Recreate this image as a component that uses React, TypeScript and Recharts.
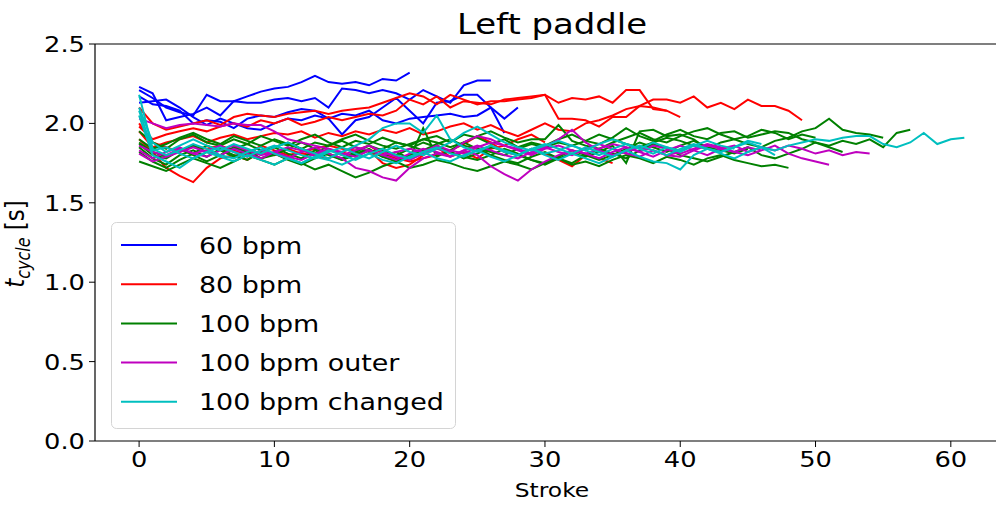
import { Legend, Line, LineChart, ReferenceLine, XAxis, YAxis } from "recharts";

const X_TICKS = [0, 10, 20, 30, 40, 50, 60];
const Y_TICKS = [0, 0.5, 1, 1.5, 2, 2.5];

// one inner array per run, index = stroke number
const BPM60 = [
  [2.21, 2.16, 2.10, 2.07, 2.05, 2.18, 2.14, 2.14, 2.17, 2.20, 2.22, 2.23, 2.26, 2.30, 2.26, 2.25, 2.26, 2.24, 2.28, 2.27, 2.32],
  [2.23, 2.19, 2.02, 2.04, 2.06, 2.10, 2.05, 2.14, 2.13, 2.13, 2.15, 2.16, 2.14, 2.16, 2.10, 2.22, 2.21, 2.19, 2.21, 2.19, 2.15, 2.21, 2.17, 2.13, 2.24, 2.27, 2.27],
  [2.13, 2.14, 2.15, 2.10, 2.04, 1.99, 2.03, 2.00, 1.97, 1.96, 2.00, 2.03, 2.02, 2.05, 2.03, 1.93, 2.02, 2.04, 2.10, 2.16, 2.08, 2.00, 2.13, 2.14, 2.18, 2.18, 2.10, 1.94],
  [2.17, 2.12, 2.11, 2.08, 2.00, 2.02, 2.01, 1.97, 2.03, 2.05, 2.04, 2.07, 2.09, 2.08, 2.03, 2.06, 2.05, 2.08, 2.02, 2.00, 2.03, 2.04, 2.05, 2.06, 2.04, 2.05, 2.10, 2.03, 2.10],
];

const BPM80 = [
  [2.10, 2.00, 1.96, 1.98, 2.00, 2.02, 1.99, 2.04, 2.06, 2.05, 2.04, 2.06, 2.07, 2.08, 2.06, 2.08, 2.09, 2.10, 2.13, 2.16, 2.19, 2.17, 2.12, 2.18, 2.15, 2.12, 2.14, 2.14, 2.15, 2.16, 2.18, 2.13, 2.16, 2.15, 2.17, 2.13, 2.21, 2.21, 2.09, 2.08, 2.04],
  [1.98, 1.90, 1.93, 1.95, 1.97, 1.95, 1.98, 2.00, 1.98, 2.02, 2.00, 2.03, 1.99, 2.01, 2.04, 2.02, 2.04, 2.06, 2.05, 2.08, 2.15, 2.12, 2.17, 2.10, 2.14, 2.13, 2.12, 2.15, 2.16, 2.17, 2.18, 2.03, 2.03, 2.02, 1.98, 2.04, 2.04, 2.11, 2.15, 2.15, 2.13, 2.17, 2.10, 2.13, 2.09, 2.15, 2.11, 2.11, 2.08, 2.02],
  [1.95, 1.85, 1.88, 1.90, 1.92, 1.88, 1.91, 1.93, 1.90, 1.92, 1.94, 1.93, 1.95, 1.91, 1.94, 1.92, 1.95, 1.93, 1.96, 1.94, 1.97, 1.93, 1.95, 1.98, 2.00, 1.96, 1.99, 1.95, 1.92, 1.96, 2.00, 1.96, 1.95, 2.00, 2.02, 2.05, 2.09, 2.11, 2.10, 2.08],
  [1.90, 1.82, 1.72, 1.67, 1.63, 1.72, 1.78, 1.80, 1.77, 1.82, 1.80, 1.84, 1.81, 1.80, 1.78, 1.82, 1.79, 1.83, 1.75, 1.72, 1.74, 1.80, 1.85, 1.79, 1.82, 1.78, 1.84, 1.86, 1.90, 1.93, 1.88],
  [2.00, 1.88, 1.85, 1.82, 1.86, 1.84, 1.86, 1.83, 1.80, 1.86, 1.83, 1.80, 1.82, 1.84, 1.86, 1.84, 1.83, 1.86, 1.81, 1.78, 1.76, 1.78, 1.80, 1.83, 1.87, 1.92, 1.88, 1.82, 1.80, 1.84, 1.81, 1.77, 1.73, 1.80, 1.78, 1.75],
];

const BPM100 = [
  [1.95, 1.88, 1.84, 1.90, 1.93, 1.88, 1.86, 1.90, 1.87, 1.92, 1.89, 1.86, 1.90, 1.93, 1.88, 1.85, 1.89, 1.87, 1.91, 1.88, 1.86, 1.90, 1.92, 1.88, 1.93, 1.91, 1.87, 1.90, 1.85, 1.88, 1.86, 1.90, 1.93, 1.89, 1.87, 1.91, 1.97, 1.92, 1.89, 1.93, 1.96, 1.92, 1.90, 1.94, 1.95, 1.91, 1.93, 1.95, 1.94, 1.90, 1.88, 1.86, 1.89, 1.87, 1.90, 1.85, 1.94, 1.96],
  [1.87, 1.80, 1.78, 1.83, 1.86, 1.82, 1.80, 1.84, 1.87, 1.83, 1.85, 1.88, 1.84, 1.81, 1.86, 1.89, 1.85, 1.82, 1.84, 1.88, 1.86, 1.83, 1.87, 1.90, 1.86, 1.84, 1.82, 1.80, 1.84, 1.87, 1.85, 1.88, 1.86, 1.89, 1.93, 1.90, 1.87, 1.85, 1.88, 1.91, 1.89, 1.86, 1.84, 1.88, 1.90, 1.87, 1.85, 1.89, 1.91, 1.95, 1.97, 2.03, 1.96, 1.94, 1.93, 1.91],
  [1.76, 1.73, 1.70, 1.74, 1.78, 1.75, 1.72, 1.76, 1.80, 1.77, 1.74, 1.78, 1.75, 1.71, 1.74, 1.70, 1.66, 1.69, 1.73, 1.76, 1.72, 1.74, 1.77, 1.75, 1.72, 1.70, 1.73, 1.76, 1.74, 1.71, 1.75, 1.78, 1.74, 1.76, 1.73, 1.77, 1.80, 1.78, 1.75, 1.79, 1.77, 1.74, 1.78, 1.80, 1.77, 1.75, 1.73, 1.74, 1.72],
  [1.85, 1.78, 1.74, 1.80, 1.83, 1.79, 1.84, 1.80, 1.77, 1.82, 1.85, 1.81, 1.78, 1.83, 1.80, 1.77, 1.81, 1.84, 1.79, 1.82, 1.78, 1.97, 1.79, 1.83, 1.88, 1.84, 1.80, 1.77, 1.75, 1.79, 1.82, 1.78, 1.75, 1.80, 1.84, 1.81, 1.78, 1.83, 1.87, 1.84, 1.80, 1.78, 1.76, 1.79, 1.82, 1.85, 1.80, 1.78, 1.81, 1.84, 1.88, 1.85, 1.82],
  [1.82, 1.76, 1.72, 1.77, 1.81, 1.86, 1.83, 1.79, 1.83, 1.78, 1.80, 1.84, 1.88, 1.84, 1.81, 1.78, 1.82, 1.86, 1.83, 1.80, 1.84, 1.88, 1.85, 1.82, 1.78, 1.81, 1.85, 1.83, 1.80, 1.77, 1.75, 1.79, 1.83, 1.80, 1.77, 1.80, 1.84, 1.88, 1.85, 1.82, 1.86, 1.89, 1.85, 1.83, 1.81, 1.84],
  [1.90, 1.84, 1.87, 1.91, 1.94, 1.90, 1.87, 1.92, 1.89, 1.86, 1.90, 1.87, 1.84, 1.88, 1.86, 1.90, 1.93, 1.89, 1.86, 1.84, 1.87, 1.90, 1.88, 1.85, 1.88, 1.92, 1.95, 1.91, 1.88, 1.90, 1.90, 1.99, 1.89, 1.86, 1.84, 1.88, 1.91, 1.94, 1.90, 1.88, 1.92, 1.95, 1.97, 1.93, 1.90, 1.92, 1.96, 1.94, 1.90, 1.93, 1.91],
  [1.88, 1.82, 1.79, 1.84, 1.80, 1.76, 1.80, 1.85, 1.82, 1.78, 1.81, 1.77, 1.74, 1.78, 1.81, 1.77, 1.80, 1.83, 1.79, 1.76, 1.80, 1.83, 1.86, 1.82, 1.79, 1.77, 1.80, 1.84, 1.81, 1.77, 1.74, 1.78, 1.81, 1.79, 1.82, 1.86, 1.75, 1.95, 1.96, 1.92, 1.93, 1.90, 1.84],
];

const BPM100_OUTER = [
  [2.03, 2.00, 1.97, 1.99, 2.00, 1.99, 1.98, 2.00, 1.99, 1.99, 1.95, 1.90, 1.88, 1.86, 1.84, 1.82, 1.85, 1.83, 1.80, 1.82, 1.84, 1.82, 1.86, 1.83, 1.81, 1.85, 1.88, 1.86, 1.83, 1.80, 1.84, 1.86, 1.83, 1.81, 1.84, 1.87, 1.85, 1.82, 1.86, 1.84, 1.81, 1.84, 1.87, 1.85, 1.82, 1.80, 1.83, 1.86, 1.81, 1.78, 1.76, 1.74],
  [1.86, 1.82, 1.80, 1.84, 1.81, 1.83, 1.86, 1.82, 1.79, 1.83, 1.81, 1.78, 1.82, 1.85, 1.81, 1.78, 1.72, 1.70, 1.66, 1.64, 1.72, 1.78, 1.81, 1.79, 1.83, 1.80, 1.73, 1.68, 1.64, 1.71, 1.76, 1.80, 1.83, 1.81, 1.78, 1.82, 1.85, 1.82, 1.79, 1.83, 1.86, 1.83, 1.80, 1.84, 1.86, 1.82, 1.85, 1.83, 1.86, 1.84, 1.81, 1.83, 1.80, 1.82, 1.81],
  [1.83, 1.78, 1.82, 1.85, 1.81, 1.79, 1.83, 1.86, 1.83, 1.80, 1.82, 1.79, 1.77, 1.81, 1.84, 1.80, 1.83, 1.86, 1.82, 1.79, 1.77, 1.81, 1.84, 1.82, 1.88, 1.92, 1.90, 1.86, 1.84, 1.81, 1.85, 1.90, 1.96, 1.88, 1.83, 1.80, 1.82, 1.85, 1.83, 1.80, 1.79, 1.83, 1.86, 1.84, 1.82, 1.85, 1.83],
  [1.81, 1.76, 1.79, 1.82, 1.85, 1.82, 1.80, 1.84, 1.81, 1.78, 1.82, 1.85, 1.83, 1.80, 1.84, 1.81, 1.79, 1.83, 1.80, 1.77, 1.81, 1.84, 1.82, 1.79, 1.83, 1.86, 1.83, 1.80, 1.78, 1.82, 1.85, 1.82, 1.80, 1.84, 1.87, 1.84, 1.81, 1.79, 1.83, 1.80, 1.82],
];

const BPM100_CHANGED = [
  [2.18, 1.84, 1.80, 1.83, 1.87, 1.84, 1.80, 1.78, 1.82, 1.85, 1.81, 1.78, 1.75, 1.79, 1.83, 1.80, 1.77, 1.81, 1.84, 1.80, 1.78, 1.82, 1.85, 1.81, 1.79, 1.83, 1.86, 1.82, 1.80, 1.84, 1.81, 1.83, 1.86, 1.83, 1.80, 1.84, 1.87, 1.84, 1.81, 1.85, 1.83, 1.86, 1.84, 1.82, 1.85, 1.88, 1.85, 1.83, 1.86, 1.88, 1.90, 1.89, 1.91, 1.92, 1.92, 1.87, 1.85, 1.88, 1.94, 1.87, 1.90, 1.91],
  [2.10, 1.88, 1.82, 1.86, 1.90, 1.86, 1.83, 1.87, 1.84, 1.81, 1.85, 1.88, 1.84, 1.81, 1.78, 1.82, 1.86, 1.90, 1.97, 2.00, 2.00, 1.94, 2.05, 1.90, 1.85, 1.82, 1.86, 1.83, 1.80, 1.84, 1.87, 1.84, 1.81, 1.85, 1.82, 1.79, 1.83, 1.86, 1.83, 1.80, 1.84, 1.87, 1.84, 1.82, 1.85, 1.89, 1.87],
  [2.05, 1.80, 1.76, 1.72, 1.78, 1.82, 1.79, 1.76, 1.80, 1.77, 1.74, 1.78, 1.75, 1.79, 1.77, 1.74, 1.78, 1.81, 1.77, 1.75, 1.79, 1.82, 1.78, 1.76, 1.80, 1.83, 1.79, 1.76, 1.80, 1.84, 1.80, 1.77, 1.81, 1.78, 1.75, 1.79, 1.83, 1.79, 1.76, 1.75, 1.71, 1.80, 1.84, 1.81, 1.78, 1.82, 1.85, 1.80],
  [2.08, 1.83, 1.85, 1.81, 1.78, 1.82, 1.85, 1.82, 1.79, 1.83, 1.86, 1.83, 1.80, 1.78, 1.82, 1.85, 1.81, 1.78, 1.82, 1.86, 1.82, 1.80, 1.84, 1.88, 1.94, 1.98, 1.93, 1.88, 1.85, 1.83, 1.86, 1.89, 1.86, 1.83, 1.87, 1.90, 1.87, 1.84, 1.88, 1.85, 1.82, 1.86, 1.89, 1.86, 1.84],
];

const SERIES = [
  { name: "60 bpm", color: "#0000ff", runs: BPM60 },
  { name: "80 bpm", color: "#ff0000", runs: BPM80 },
  { name: "100 bpm", color: "#008000", runs: BPM100 },
  { name: "100 bpm outer", color: "#bf00bf", runs: BPM100_OUTER },
  { name: "100 bpm changed", color: "#00bfbf", runs: BPM100_CHANGED },
];

const FONT = "DejaVu Sans";
// the reference is a bit wider than tall, so text gets stretched horizontally
const SX = 1.17;

const XTick = (props: any) => (
  <text
    transform={`translate(${props.x},467) scale(${SX},1)`}
    textAnchor="middle"
    fontSize={22}
    fontFamily={FONT}
    fill="#000"
  >
    {props.payload.value}
  </text>
);

const YTick = (props: any) => (
  <text
    transform={`translate(85,${props.y + 8}) scale(${SX},1)`}
    textAnchor="end"
    fontSize={22}
    fontFamily={FONT}
    fill="#000"
  >
    {Number(props.payload.value).toFixed(1)}
  </text>
);

const Title = () => (
  <text
    transform={`translate(552,34) scale(${SX},1)`}
    textAnchor="middle"
    fontSize={29}
    fontFamily={FONT}
    fill="#000"
  >
    Left paddle
  </text>
);

const XLabel = () => (
  <text
    transform={`translate(552,497) scale(${SX},1)`}
    textAnchor="middle"
    fontSize={20}
    fontFamily={FONT}
    fill="#000"
  >
    Stroke
  </text>
);

const YLabel = () => (
  <text
    transform={`translate(24,244) scale(${SX},1) rotate(-90)`}
    textAnchor="middle"
    fontSize={23}
    fontFamily={FONT}
    fill="#000"
  >
    <tspan fontStyle="italic">t</tspan>
    <tspan fontStyle="italic" fontSize={16} dy={5}>
      cycle
    </tspan>
    <tspan dy={-5}> [s]</tspan>
  </text>
);

const LegendBox = () => (
  <svg width={345} height={207} style={{ display: "block" }}>
    <rect
      x={0.5}
      y={0.5}
      width={344}
      height={206}
      rx={5}
      fill="#fff"
      fillOpacity={0.8}
      stroke="#d4d4d4"
    />
    {SERIES.map((s, i) => {
      const cy = 23 + i * 39.2;
      return (
        <g key={s.name}>
          <line x1={10} x2={66} y1={cy} y2={cy} stroke={s.color} strokeWidth={2} />
          <text
            transform={`translate(88,${cy + 8.5}) scale(${SX},1)`}
            fontSize={23}
            fontFamily={FONT}
            fill="#000"
          >
            {s.name}
          </text>
        </g>
      );
    })}
  </svg>
);

export default function App() {
  return (
    <div style={{ position: "absolute", left: 0, top: 0, background: "#fff" }}>
      <LineChart
        width={996}
        height={507}
        margin={{ top: 44, right: 0, bottom: 0, left: 0 }}
      >
        <XAxis
          type="number"
          dataKey="x"
          domain={[-3.26, 63.34]}
          allowDataOverflow
          ticks={X_TICKS}
          height={66}
          tick={XTick}
          tickSize={6}
          tickLine={{ stroke: "#000" }}
          axisLine={{ stroke: "#000", strokeWidth: 1.2 }}
          label={<XLabel />}
        />
        <YAxis
          type="number"
          dataKey="y"
          domain={[0, 2.5]}
          allowDataOverflow
          ticks={Y_TICKS}
          width={95}
          tick={YTick}
          tickSize={6}
          tickLine={{ stroke: "#000" }}
          axisLine={{ stroke: "#000", strokeWidth: 1.2 }}
          label={<YLabel />}
        />
        <ReferenceLine
          y={2.5}
          stroke="#000"
          strokeWidth={1.2}
          ifOverflow="visible"
          label={<Title />}
        />
        {SERIES.flatMap((s) =>
          s.runs.map((run, k) => (
            <Line
              key={`${s.name}-${k}`}
              data={run.map((v, i) => ({ x: i, y: v }))}
              dataKey="y"
              stroke={s.color}
              strokeWidth={2}
              dot={false}
              activeDot={false}
              isAnimationActive={false}
            />
          ))
        )}
        <Legend
          layout="vertical"
          align="center"
          verticalAlign="middle"
          wrapperStyle={{ left: 111, top: 222, width: 345, height: 207 }}
          content={() => <LegendBox />}
        />
      </LineChart>
    </div>
  );
}
